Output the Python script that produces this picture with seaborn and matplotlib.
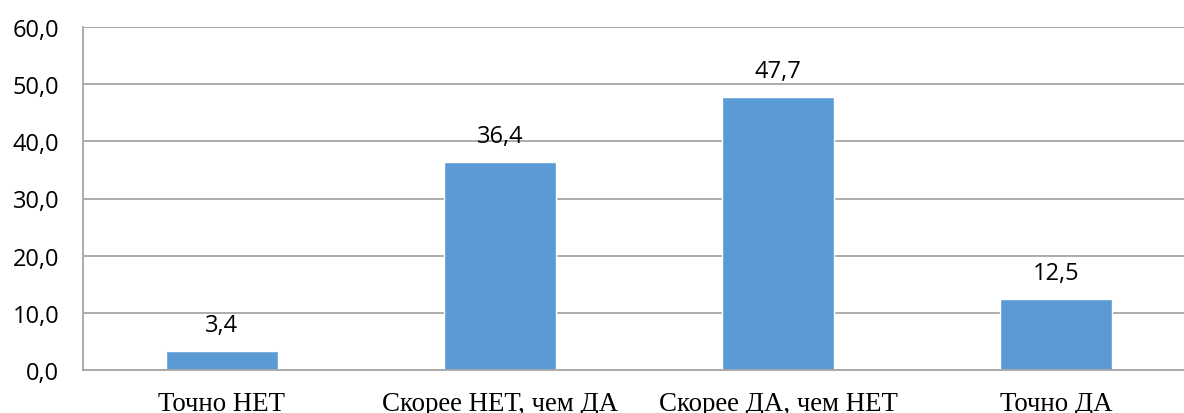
import matplotlib
matplotlib.use("Agg")
import matplotlib.pyplot as plt
import seaborn as sns
import pandas as pd

categories = ["Точно НЕТ", "Скорее НЕТ, чем ДА", "Скорее ДА, чем НЕТ", "Точно ДА"]
values = [3.4, 36.4, 47.7, 12.5]
yticks = [0, 10, 20, 30, 40, 50, 60]

sns.set_theme(style="white")
plt.rcParams['font.family'] = ['Open Sans', 'DejaVu Sans']

df = pd.DataFrame({"cat": categories, "val": values})

fig = plt.figure(figsize=(11.84, 4.14), dpi=100)
ax = fig.add_axes([83/1184, 43/414, 1112/1184, 343/414])
sns.barplot(data=df, x="cat", y="val", color="#5B9BD5", saturation=1, width=0.40, ax=ax)

ax.set_ylim(0, 60)
ax.set_yticks(yticks)
ax.set_yticklabels([f"{t:.1f}".replace(".", ",") for t in yticks], fontsize=17, color="black")
ax.yaxis.grid(True, color="#A6A6A6", linewidth=1.3)
ax.set_axisbelow(True)
for s in ["top", "right"]:
    ax.spines[s].set_visible(False)
for s in ["left", "bottom"]:
    ax.spines[s].set_color("#A6A6A6")
    ax.spines[s].set_linewidth(1.3)
ax.tick_params(axis="both", length=0)
ax.tick_params(axis="y", pad=17)
ax.tick_params(axis="x", pad=15)
for lab in ax.get_xticklabels():
    lab.set_fontfamily("Liberation Serif")
    lab.set_fontsize(19.4)
    lab.set_color("black")
ax.set_xlabel("")
ax.set_ylabel("")

for i, v in enumerate(values):
    ax.annotate(f"{v:.1f}".replace(".", ","), (i, v), xytext=(0, 10), textcoords="offset points",
                ha="center", va="bottom", fontsize=17, color="black")

fig.savefig("out.png", dpi=100)
